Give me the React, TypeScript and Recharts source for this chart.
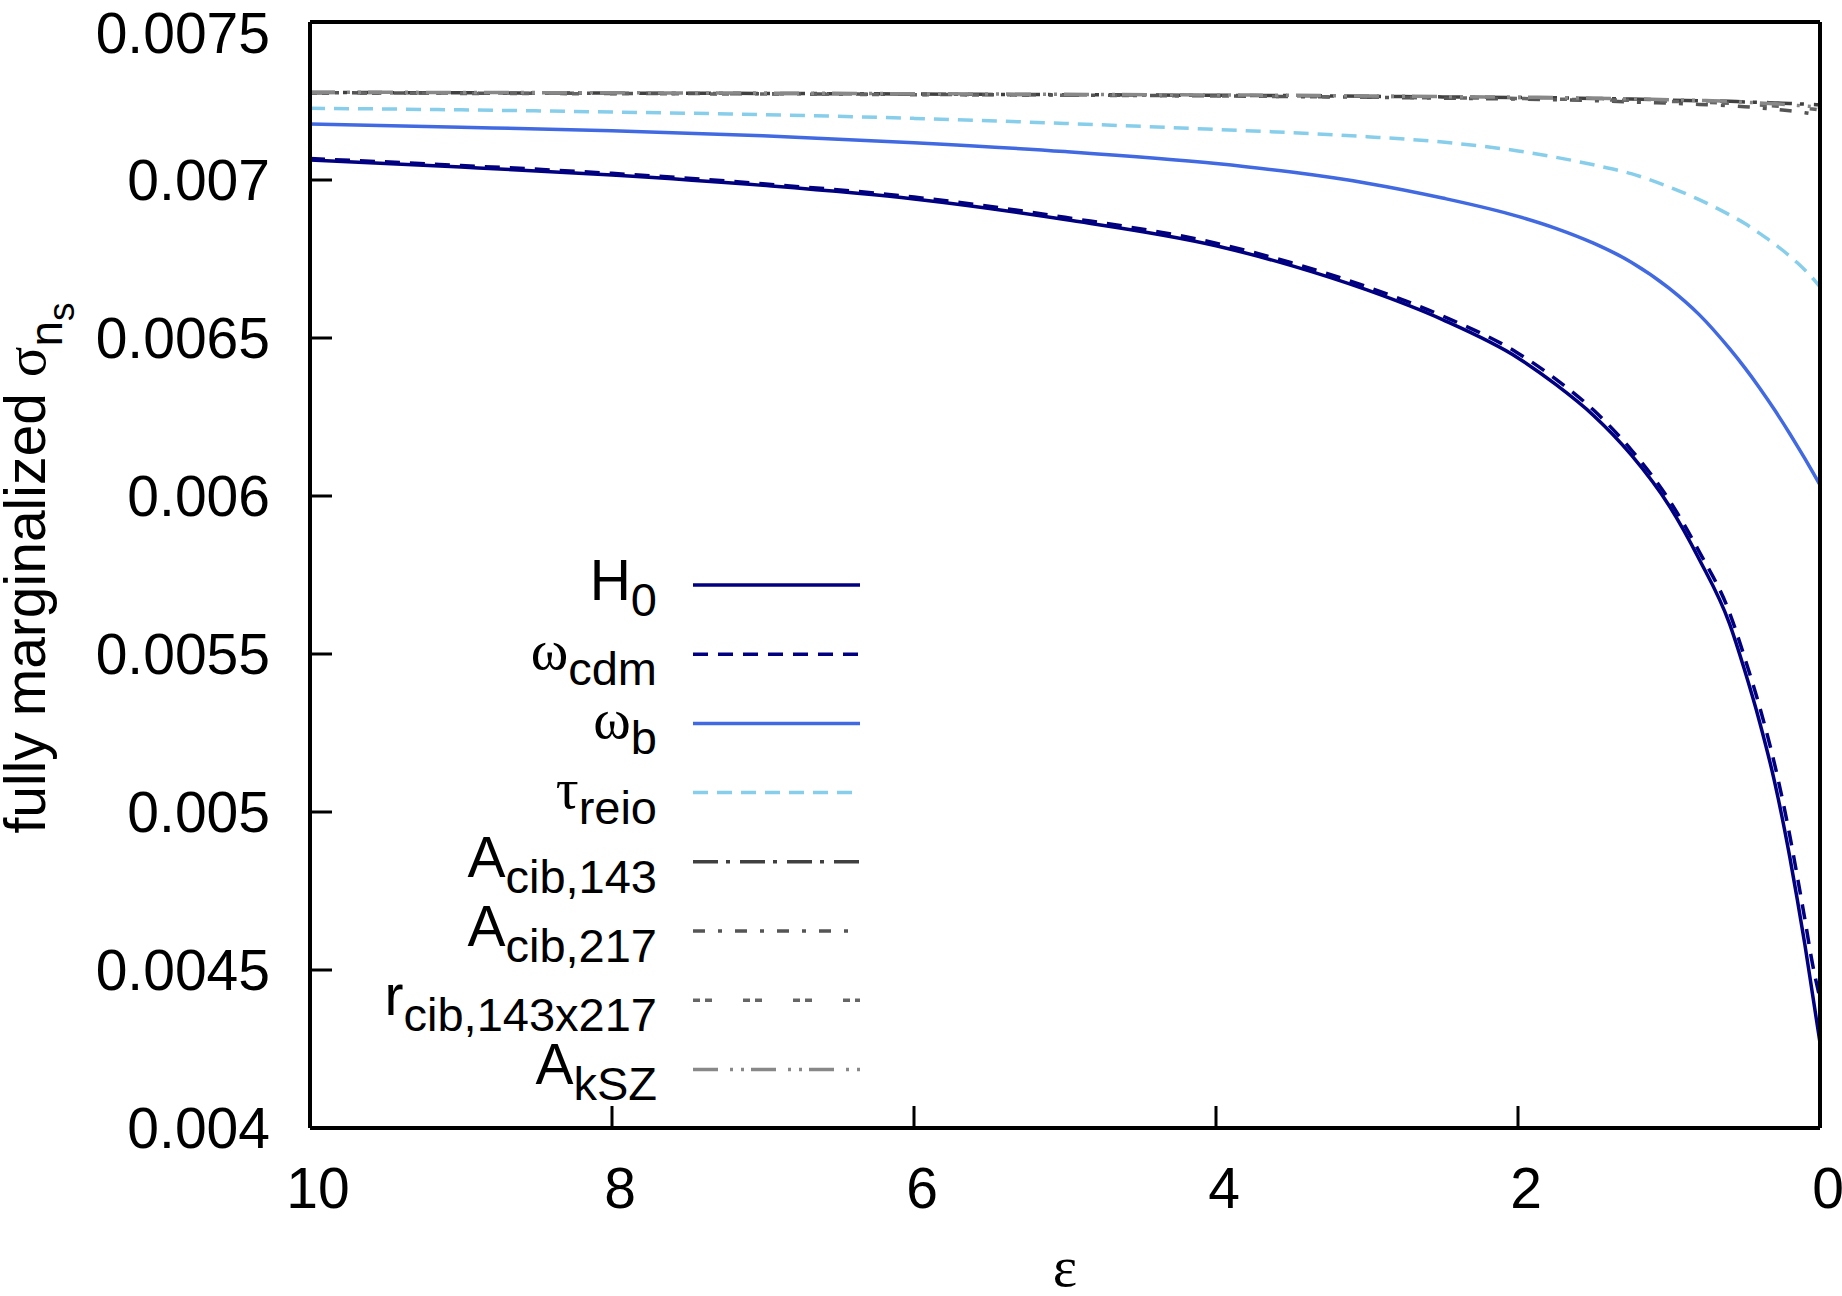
import React from "react";
import { LineChart, Line, XAxis, YAxis, Legend } from "recharts";

// epsilon grid (10 -> 0)
const EPS = [10, 9, 8, 7, 6, 5, 4, 3.5, 3, 2.5, 2, 1.75, 1.5, 1.25, 1, 0.8, 0.6, 0.5, 0.4, 0.3, 0.2, 0.15, 0.1, 0.05, 0];

const H0 = [0.007063, 0.007041, 0.007016, 0.006983, 0.00694, 0.006875, 0.006792, 0.006729, 0.006652, 0.006558, 0.006437, 0.006353, 0.006255, 0.00613, 0.00597, 0.0058, 0.005597, 0.00545, 0.005285, 0.005094, 0.004857, 0.004722, 0.00458, 0.004425, 0.00427];
const OMEGA_CDM = [0.007068, 0.007046, 0.007021, 0.006988, 0.006946, 0.006882, 0.0068, 0.006738, 0.006662, 0.00657, 0.006452, 0.00637, 0.006272, 0.006146, 0.005988, 0.005824, 0.005632, 0.00549, 0.005333, 0.00515, 0.004925, 0.004795, 0.00466, 0.00452, 0.00441];
const OMEGA_B = [0.007177, 0.007167, 0.007156, 0.00714, 0.007118, 0.00709, 0.007052, 0.007025, 0.00699, 0.006943, 0.006885, 0.006847, 0.0068, 0.00674, 0.006658, 0.006574, 0.006467, 0.006407, 0.006342, 0.006272, 0.006197, 0.006158, 0.006118, 0.006077, 0.006035];
const TAU_REIO = [0.007227, 0.007222, 0.007215, 0.007207, 0.007195, 0.007179, 0.00716, 0.00715, 0.007137, 0.00712, 0.007092, 0.007072, 0.007048, 0.00702, 0.006978, 0.006938, 0.00689, 0.006863, 0.006831, 0.006797, 0.006759, 0.006738, 0.006715, 0.00669, 0.006662];
const A_CIB_143 = [0.007277, 0.007276, 0.007275, 0.007274, 0.007272, 0.00727, 0.007268, 0.007267, 0.007265, 0.007263, 0.007261, 0.00726, 0.007258, 0.007256, 0.007253, 0.007251, 0.007249, 0.007247, 0.007246, 0.007244, 0.007242, 0.007241, 0.00724, 0.007239, 0.007238];
const A_CIB_217 = [0.007276, 0.007275, 0.007274, 0.007273, 0.007271, 0.007269, 0.007266, 0.007264, 0.007262, 0.007259, 0.007256, 0.007254, 0.007251, 0.007247, 0.007243, 0.007239, 0.007235, 0.007232, 0.007228, 0.007224, 0.007219, 0.007216, 0.007213, 0.007209, 0.007205];
const R_CIB = [0.007275, 0.007274, 0.007273, 0.007272, 0.00727, 0.007268, 0.007266, 0.007264, 0.007262, 0.00726, 0.007258, 0.007256, 0.007254, 0.007252, 0.007249, 0.007246, 0.007243, 0.00724, 0.007237, 0.007234, 0.007231, 0.007229, 0.007227, 0.007225, 0.007222];
const A_KSZ = [0.007278, 0.007277, 0.007276, 0.007275, 0.007273, 0.007271, 0.007269, 0.007268, 0.007266, 0.007264, 0.007262, 0.007261, 0.007259, 0.007257, 0.007254, 0.007252, 0.007249, 0.007246, 0.007244, 0.007241, 0.007238, 0.007236, 0.007234, 0.007232, 0.00723];

const X_TICKS = [10, 8, 6, 4, 2, 0];
const Y_TICKS = [0.004, 0.0045, 0.005, 0.0055, 0.006, 0.0065, 0.007, 0.0075];

const SANS = "'Liberation Sans', Arial, Helvetica, sans-serif";
const SERIF = "'Liberation Serif', 'DejaVu Serif', serif";

const SERIES = [
  { key: "h0", main: "H", sub: "0", greek: false, values: H0, color: "#000080", dash: undefined },
  { key: "wcdm", main: "ω", sub: "cdm", greek: true, values: OMEGA_CDM, color: "#000080", dash: "15 10" },
  { key: "wb", main: "ω", sub: "b", greek: true, values: OMEGA_B, color: "#4169e1", dash: undefined },
  { key: "tau", main: "τ", sub: "reio", greek: true, values: TAU_REIO, color: "#87ceeb", dash: "15 9" },
  { key: "a143", main: "A", sub: "cib,143", greek: false, values: A_CIB_143, color: "#404040", dash: "25 8 4 10" },
  { key: "a217", main: "A", sub: "cib,217", greek: false, values: A_CIB_217, color: "#555555", dash: "12 13 4 13" },
  { key: "rcib", main: "r", sub: "cib,143x217", greek: false, values: R_CIB, color: "#666666", dash: "7 5 7 31" },
  { key: "aksz", main: "A", sub: "kSZ", greek: false, values: A_KSZ, color: "#888888", dash: "25 12 3 8 3 7" },
];

const data = EPS.map((e, i) => {
  const row: Record<string, number> = { eps: e };
  SERIES.forEach(s => { row[s.key] = s.values[i]; });
  return row;
});

function LegendBox() {
  return (
    <svg width={600} height={620} style={{ display: "block", overflow: "visible" }}>
      {SERIES.map((s, i) => {
        const y = 45 + i * 69.2;
        return (
          <g key={s.key}>
            <text x={357} y={y + 15} textAnchor="end" fontFamily={SANS} fontSize={57} fill="#000">
              <tspan fontFamily={s.greek ? SERIF : SANS}>{s.main}</tspan>
              <tspan dy={16} fontSize={47} fontFamily={SANS}>{s.sub}</tspan>
            </text>
            <line x1={393} x2={560} y1={y} y2={y} stroke={s.color} strokeWidth={3.5} strokeDasharray={s.dash} />
          </g>
        );
      })}
    </svg>
  );
}

const XLabel = (props: any) => {
  const vb = props.viewBox || { x: 310, y: 1128, width: 1510, height: 168 };
  return (
    <text x={vb.x + vb.width / 2} y={vb.y + vb.height - 10} textAnchor="middle" fontFamily={SERIF} fontSize={58} fill="#000">
      ε
    </text>
  );
};

const YLabel = (props: any) => {
  const vb = props.viewBox || { x: 0, y: 22, width: 310, height: 1106 };
  const x = vb.x + 45;
  const y = vb.y + vb.height / 2 - 7;
  return (
    <text x={x} y={y} transform={`rotate(-90 ${x} ${y})`} textAnchor="middle" fontFamily={SANS} fontSize={57} fill="#000">
      fully marginalized <tspan fontFamily={SERIF}>σ</tspan>
      <tspan dy={17} fontSize={46}>n</tspan>
      <tspan dy={12} fontSize={37}>s</tspan>
    </text>
  );
};

const yTickStyle = { fill: "#000", fontSize: 57, fontFamily: SANS };
const xTickStyle = { fill: "#000", fontSize: 57, fontFamily: SANS, dx: 8 };

export default function App() {
  return (
    <div style={{ position: "absolute", left: 0, top: 0, width: 1842, height: 1296, background: "#fff" }}>
      <LineChart width={1842} height={1296} data={data} margin={{ top: 0, right: 0, bottom: 0, left: 0 }}>
        <XAxis
          xAxisId="b" dataKey="eps" type="number" domain={[0, 10]} reversed ticks={X_TICKS}
          height={168} tickSize={-22} tickMargin={62} tick={xTickStyle}
          axisLine={{ stroke: "#000", strokeWidth: 4 }} tickLine={{ stroke: "#000", strokeWidth: 3 }}
          label={(p: any) => <XLabel {...p} />}
        />
        <XAxis
          xAxisId="t" orientation="top" dataKey="eps" type="number" domain={[0, 10]} reversed ticks={X_TICKS}
          height={22} tickSize={-22} tick={false}
          axisLine={{ stroke: "#000", strokeWidth: 4 }} tickLine={{ stroke: "#000", strokeWidth: 3 }}
        />
        <YAxis
          yAxisId="l" type="number" domain={[0.004, 0.0075]} ticks={Y_TICKS} allowDataOverflow
          width={310} tickSize={-22} tickMargin={62} tick={yTickStyle}
          tickFormatter={(v: number) => String(v)}
          axisLine={{ stroke: "#000", strokeWidth: 4 }} tickLine={{ stroke: "#000", strokeWidth: 3 }}
          label={(p: any) => <YLabel {...p} />}
        />
        <YAxis
          yAxisId="r" orientation="right" type="number" domain={[0.004, 0.0075]} ticks={Y_TICKS} allowDataOverflow
          width={22} tickSize={-22} tick={false}
          axisLine={{ stroke: "#000", strokeWidth: 4 }} tickLine={{ stroke: "#000", strokeWidth: 3 }}
        />
        {SERIES.map(s => (
          <Line
            key={s.key} xAxisId="b" yAxisId="l" type="monotone" dataKey={s.key}
            stroke={s.color} strokeWidth={3.5} strokeDasharray={s.dash} strokeLinecap="butt"
            dot={false} activeDot={false} isAnimationActive={false}
          />
        ))}
        <Legend
          layout="vertical" align="center" verticalAlign="middle"
          wrapperStyle={{ position: "absolute", left: 300, top: 540, width: 600, height: 620, margin: 0, padding: 0 }}
          content={() => <LegendBox />}
        />
      </LineChart>
    </div>
  );
}
